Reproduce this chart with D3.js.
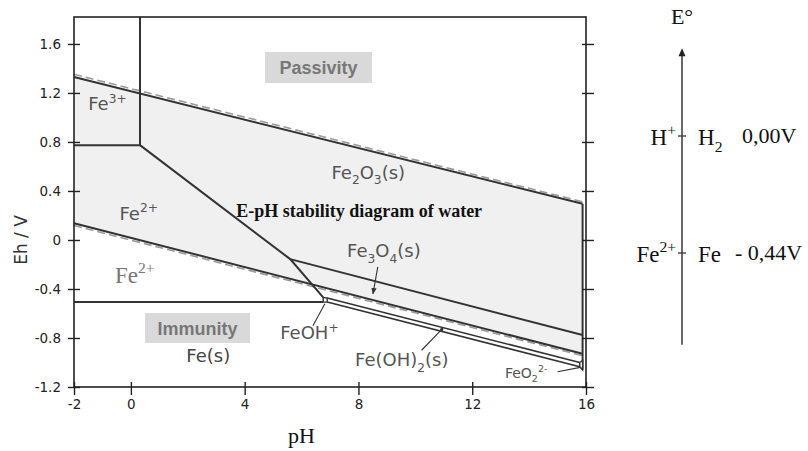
<!DOCTYPE html>
<html><head><meta charset="utf-8">
<script src="https://cdn.jsdelivr.net/npm/d3@7"></script>
<style>html,body{margin:0;padding:0;background:#fff;}svg{display:block;}</style>
</head><body>
<svg id="c" width="808" height="451"></svg>
<script>
// ---------- data ----------
const phTicks = [-2, 0, 4, 8, 12, 16];
const ehTicks = [-1.2, -0.8, -0.4, 0, 0.4, 0.8, 1.2, 1.6];
const waterUpper = [[-2, 1.33], [15.88, 0.295]];
const waterUpperDashed = [[-2, 1.352], [16, 0.305]];
const waterLower = [[-2, 0.137], [15.88, -0.929]];
const waterLowerDashed = [[-2, 0.118], [16, -0.952]];
const fe3Fe2 = [[-2, 0.774], [0.32, 0.774]];
const fe3Vertical = [[0.32, 0.774], [0.32, 1.82]];
const fe2Oxide = [[0.32, 0.774], [5.6, -0.156], [6.76, -0.468]];
const fe3o4Top = [[5.6, -0.156], [15.88, -0.776]];
const fe2Fe = [[-2, -0.507], [6.76, -0.507]];
const feOH2Upper = [[6.9, -0.474], [15.78, -1.0]];
const feOH2Lower = [[6.9, -0.507], [15.78, -1.035]];
const rightEdge = [[15.88, 0.295], [15.88, -1.06]];
const feOHPlus = [[6.76, -0.468], [6.9, -0.474], [6.9, -0.507], [6.76, -0.507]];
const feO2Region = [[15.78, -1.0], [15.88, -0.985], [15.88, -1.06], [15.78, -1.035]];
const coupleOx = ["H", "Fe"];
const coupleOxSup = ["+", "2+"];
const coupleRed = ["H", "Fe"];
const coupleRedSub = ["2", ""];
const coupleE = [0.00, -0.44];
const coupleLabel = ["0,00V", "- 0,44V"];

// ---------- setup ----------
const svg = d3.select("#c");
const x = d3.scaleLinear().domain([-2, 16]).range([74, 586]);
const y = d3.scaleLinear().domain([-1.2, 1.82]).range([387, 17]);
const line = d3.line().x(d => x(d[0])).y(d => y(d[1]));
const sans = "'DejaVu Sans', sans-serif";
const serif = "'Liberation Serif', 'Times New Roman', serif";
const arial = "'Liberation Sans', Arial, sans-serif";

function rich(g, px, py, parts, size, opts = {}) {
  const t = g.append("text").attr("x", px).attr("y", py)
    .attr("font-family", opts.family || sans)
    .attr("font-size", size)
    .attr("fill", opts.fill || "#555")
    .attr("font-weight", opts.weight || "normal")
    .attr("text-anchor", opts.anchor || "start");
  let cur = 0;
  parts.forEach(([s, k]) => {
    const shift = k === "sub" ? size * 0.3 : k === "sup" ? -size * 0.42 : 0;
    t.append("tspan").attr("dy", shift - cur)
      .attr("font-size", k ? size * 0.68 : size).text(s);
    cur = shift;
  });
  return t;
}

// band of water stability
const band = waterUpper.concat(waterLower.slice().reverse());
svg.append("path").attr("d", line(band) + "Z").attr("fill", "#f0f0f0");

// dashed theoretical water lines
[waterUpperDashed, waterLowerDashed].forEach(d => {
  svg.append("path").attr("d", line(d)).attr("fill", "none")
    .attr("stroke", "#9a9a9a").attr("stroke-width", 1.6).attr("stroke-dasharray", "8,4");
});

// solid boundaries
[waterUpper, waterLower, fe3Fe2, fe3Vertical, fe2Oxide, fe3o4Top, fe2Fe, rightEdge].forEach(d => {
  svg.append("path").attr("d", line(d)).attr("fill", "none")
    .attr("stroke", "#333").attr("stroke-width", 2);
});
[feOH2Upper, feOH2Lower].forEach(d => {
  svg.append("path").attr("d", line(d)).attr("fill", "none")
    .attr("stroke", "#333").attr("stroke-width", 1.6);
});
[feOHPlus, feO2Region].forEach(d => {
  svg.append("path").attr("d", line(d) + "Z").attr("fill", "#fff")
    .attr("stroke", "#333").attr("stroke-width", 1.4);
});

// ---------- axes ----------
const fmt = d => String(d);
function styleAxis(g, labels) {
  g.select(".domain").remove();
  g.selectAll(".tick line").attr("stroke", "#222").attr("stroke-width", 1.4);
  if (labels) g.selectAll(".tick text").attr("font-family", sans).attr("font-size", 13.5).attr("fill", "#222");
  else g.selectAll(".tick text").remove();
}
const gL = svg.append("g").attr("transform", `translate(${x(-2)},0)`)
  .call(d3.axisLeft(y).tickValues(ehTicks).tickSize(6).tickPadding(7).tickFormat(fmt));
styleAxis(gL, true);
const gL2 = svg.append("g").attr("transform", `translate(${x(-2)},0)`)
  .call(d3.axisRight(y).tickValues(ehTicks).tickSize(6));
styleAxis(gL2, false);
const gR = svg.append("g").attr("transform", `translate(${x(16)},0)`)
  .call(d3.axisRight(y).tickValues(ehTicks).tickSize(8));
styleAxis(gR, false);
const gR2 = svg.append("g").attr("transform", `translate(${x(16)},0)`)
  .call(d3.axisLeft(y).tickValues(ehTicks).tickSize(4));
styleAxis(gR2, false);
const gB = svg.append("g").attr("transform", `translate(0,${y(-1.2)})`)
  .call(d3.axisBottom(x).tickValues(phTicks).tickSize(8).tickPadding(4).tickFormat(fmt));
styleAxis(gB, true);
const gB2 = svg.append("g").attr("transform", `translate(0,${y(-1.2)})`)
  .call(d3.axisTop(x).tickValues(phTicks).tickSize(5));
styleAxis(gB2, false);

// frame
svg.append("rect").attr("x", x(-2)).attr("y", y(1.82))
  .attr("width", x(16) - x(-2)).attr("height", y(-1.2) - y(1.82))
  .attr("fill", "none").attr("stroke", "#222").attr("stroke-width", 1.6);

// axis titles
svg.append("text").attr("transform", `translate(27,${y(0)}) rotate(-90)`)
  .attr("text-anchor", "middle").attr("font-family", sans).attr("font-size", 17)
  .attr("fill", "#333").text("Eh / V");
svg.append("text").attr("x", x(6)).attr("y", 443).attr("text-anchor", "middle")
  .attr("font-family", serif).attr("font-size", 22).attr("fill", "#111").text("pH");

// ---------- region labels ----------
const boxes = [["Passivity", 265, 52, 107, 31], ["Immunity", 145, 313, 105, 30]];
boxes.forEach(b => {
  svg.append("rect").attr("x", b[1]).attr("y", b[2]).attr("width", b[3]).attr("height", b[4]).attr("fill", "#d9d9d9");
  svg.append("text").attr("x", b[1] + b[3] / 2).attr("y", b[2] + b[4] / 2 + 6.5)
    .attr("text-anchor", "middle").attr("font-family", arial).attr("font-weight", "bold")
    .attr("font-size", 18).attr("fill", "#777").text(b[0]);
});

rich(svg, x(-1.5), y(1.06), [["Fe"], ["3+", "sup"]], 18);
rich(svg, x(-0.4), y(0.165), [["Fe"], ["2+", "sup"]], 18);
rich(svg, x(-0.56), y(-0.35), [["Fe"], ["2+", "sup"]], 23, { family: serif, fill: "#777" });
rich(svg, x(1.95), y(-1.0), [["Fe(s)"]], 18, { fill: "#444" });
rich(svg, x(7.05), y(0.5), [["Fe"], ["2", "sub"], ["O"], ["3", "sub"], ["(s)"]], 18);
rich(svg, x(7.6), y(-0.14), [["Fe"], ["3", "sub"], ["O"], ["4", "sub"], ["(s)"]], 18);
rich(svg, x(5.25), y(-0.81), [["FeOH"], ["+", "sup"]], 18);
rich(svg, x(7.88), y(-1.03), [["Fe(OH)"], ["2", "sub"], ["(s)"]], 18);
rich(svg, x(13.15), y(-1.125), [["FeO"], ["2", "sub"], ["2-", "sup"]], 14);
svg.append("text").attr("x", x(3.7)).attr("y", y(0.185)).attr("font-family", serif)
  .attr("font-weight", "bold").attr("font-size", 18).attr("fill", "#111")
  .text("E-pH stability diagram of water");

// pointers
svg.append("defs").append("marker").attr("id", "ah").attr("viewBox", "0 0 10 10")
  .attr("refX", 9).attr("refY", 5).attr("markerWidth", 6).attr("markerHeight", 6)
  .attr("orient", "auto").append("path").attr("d", "M0,1L10,5L0,9Z").attr("fill", "#333");
const pointers = [
  [[8.68, -0.22], [8.51, -0.44], true],
  [[6.4, -0.7], [6.82, -0.52], false],
  [[10.22, -0.90], [10.93, -0.73], false],
  [[15.0, -1.075], [15.8, -1.04], false]
];
pointers.forEach(p => {
  svg.append("line").attr("x1", x(p[0][0])).attr("y1", y(p[0][1]))
    .attr("x2", x(p[1][0])).attr("y2", y(p[1][1]))
    .attr("stroke", "#333").attr("stroke-width", 1.1)
    .attr("marker-end", p[2] ? "url(#ah)" : null);
});
svg.append("circle").attr("cx", x(10.93)).attr("cy", y(-0.73)).attr("r", 1.6).attr("fill", "#333");

// ---------- E° scale ----------
const e = d3.scaleLinear().domain([-0.44, 0]).range([253, 136]);
const ex = 682;
svg.append("line").attr("x1", ex).attr("x2", ex).attr("y1", e(-0.785)).attr("y2", e(0.31))
  .attr("stroke", "#444").attr("stroke-width", 1.6);
svg.append("path").attr("d", `M${ex - 3.5},${e(0.30)}L${ex},${e(0.33)}L${ex + 3.5},${e(0.30)}Z`).attr("fill", "#222");
svg.append("text").attr("x", ex).attr("y", 24).attr("text-anchor", "middle")
  .attr("font-family", serif).attr("font-size", 22).attr("fill", "#111").text("E°");
coupleE.forEach((v, i) => {
  svg.append("line").attr("x1", ex - 4).attr("x2", ex + 4).attr("y1", e(v)).attr("y2", e(v))
    .attr("stroke", "#444").attr("stroke-width", 1.4);
  rich(svg, ex - 6, e(v) + 9, [[coupleOx[i]], [coupleOxSup[i], "sup"]], 23, { family: serif, fill: "#111", anchor: "end" });
  const parts = [[coupleRed[i]]];
  if (coupleRedSub[i]) parts.push([coupleRedSub[i], "sub"]);
  rich(svg, ex + 16, e(v) + 9, parts, 23, { family: serif, fill: "#111" });
  svg.append("text").attr("x", i === 0 ? 742 : 735).attr("y", e(v) + 7)
    .attr("font-family", serif).attr("font-size", 22).attr("fill", "#111").text(coupleLabel[i]);
});
</script>
</body></html>
